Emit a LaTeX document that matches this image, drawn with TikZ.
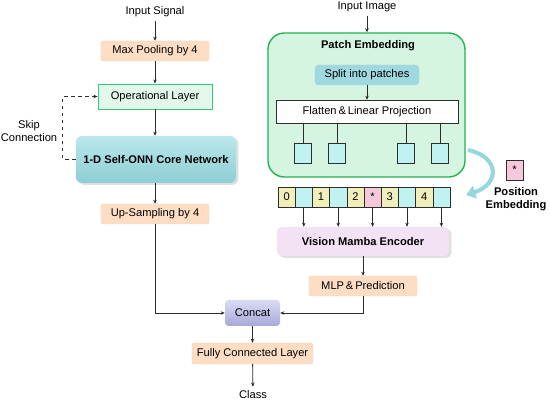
\documentclass[tikz,border=0pt]{standalone}
\usepackage{fontspec}
\setmainfont{Liberation Sans}
\usepackage{tikz}
\usetikzlibrary{shapes,arrows,positioning,fit,calc,shadows,arrows.meta}
\definecolor{peach}{RGB}{253,222,196}
\definecolor{peachline}{RGB}{248,208,178}
\definecolor{opgreen}{RGB}{226,248,234}
\definecolor{opline}{RGB}{52,200,120}
\definecolor{embfill}{RGB}{214,245,224}
\definecolor{embline}{RGB}{34,180,80}
\definecolor{splitfill}{RGB}{160,216,224}
\definecolor{coretop}{RGB}{186,232,236}
\definecolor{corebot}{RGB}{140,206,212}
\definecolor{patchcyan}{RGB}{192,242,242}
\definecolor{tokyellow}{RGB}{242,238,186}
\definecolor{tokpink}{RGB}{246,200,220}
\definecolor{mambafill}{RGB}{243,226,243}
\definecolor{cattop}{RGB}{218,218,246}
\definecolor{catbot}{RGB}{168,168,216}
\definecolor{curvecol}{RGB}{150,214,222}
\definecolor{inkline}{RGB}{45,45,45}

\begin{document}
\begin{tikzpicture}[
  x=0.03cm, y=-0.03cm,
  font=\fontsize{9.5}{11}\selectfont,
  stage/.style={rectangle, draw=peachline, fill=peach, rounded corners=2pt, minimum width=3.24cm, minimum height=0.6cm, inner sep=1pt},
  patchsq/.style={rectangle, draw=inkline, fill=patchcyan, minimum width=0.51cm, minimum height=0.6cm, inner sep=0pt},
  token/.style={rectangle, draw=inkline, minimum width=0.516cm, minimum height=0.6cm, inner sep=0pt},
  edge/.style={-{Stealth[length=3.5pt,width=3pt]}, line width=0.7pt, draw=inkline},
  link/.style={line width=0.7pt, draw=inkline},
  softshadow/.style={drop shadow={shadow xshift=2pt, shadow yshift=-1.5pt, opacity=0.25, fill=gray}}
]
\useasboundingbox (0,0) rectangle (550,404);

% signal branch
\node (insig) at (155,12) {Input Signal};
\node[stage] (maxpool) at (155,51) {Max Pooling by 4};
\node[rectangle, draw=opline, line width=0.8pt, fill=opgreen, minimum width=3.42cm, minimum height=0.75cm] (oplayer) at (155,96.5) {Operational Layer};
\node[rectangle, rounded corners=5pt, top color=coretop, bottom color=corebot, softshadow, minimum width=4.8cm, minimum height=1.41cm, font=\fontsize{9.5}{11}\selectfont\bfseries] (core) at (156,159.5) {1-D Self-ONN Core Network};
\node[stage] (upsamp) at (155,214) {Up-Sampling by 4};
\node[align=center] (skiplbl) at (29,131) {Skip\\Connection};
\draw[edge] (insig) -- (maxpool);
\draw[edge] (maxpool) -- (oplayer);
\draw[edge] (oplayer) -- (core.north -| oplayer);
\draw[edge] (core.south -| upsamp) -- (upsamp);
\draw[edge, dashed, line width=0.9pt] (core.west) -- ++(-13,0) |- (oplayer.west);

% image branch
\node (inimg) at (367,7) {Input Image};
\node[rectangle, draw=embline, line width=1.2pt, fill=embfill, rounded corners=14pt, minimum width=5.91cm, minimum height=4.32cm] (patchemb) at (366.5,105) {};
\node[font=\fontsize{9.5}{11}\selectfont\bfseries] (embtitle) at (368,46) {Patch Embedding};
\node[rectangle, fill=splitfill, draw=splitfill!85!black!60, rounded corners=3pt, minimum width=3.12cm, minimum height=0.6cm] (split) at (367,75) {Split into patches};
\node[rectangle, draw=inkline, fill=white, minimum width=5.46cm, minimum height=0.69cm] (flatten) at (367,111.5) {Flatten\,\&\,Linear Projection};
\foreach \i/\xx in {1/303, 2/337, 3/406, 4/440}
  \node[patchsq] (p\i) at (\xx,153) {};
\draw[edge] (inimg) -- (patchemb.north -| inimg);
\draw[edge] (split) -- (flatten);
\foreach \i in {1,...,4}
  \draw[link] (p\i.north |- flatten.south) -- (p\i.north);

% token sequence
\foreach \i/\lbl/\col in {0/0/tokyellow, 1//patchcyan, 2/1/tokyellow, 3//patchcyan, 4/2/tokyellow, 5/*/tokpink, 6/3/tokyellow, 7//patchcyan, 8/4/tokyellow, 9//patchcyan}
  \node[token, fill=\col] (t\i) at ({278+17.2*(\i+0.5)},197) {\lbl};
\node[token, fill=tokpink, minimum width=0.51cm] (posq) at (514.5,170) {*};
\node[align=center, font=\fontsize{9.5}{11}\selectfont\bfseries] (poslbl) at (516,199) {Position\\Embedding};
\coordinate (bendstart) at (468,150);
\coordinate (bendend) at (466,195);
\draw[-{Triangle[length=8pt,width=11pt]}, line width=3.5pt, draw=curvecol] (bendstart) .. controls (500,157) and (500,184) .. (bendend);

\node[rectangle, rounded corners=4pt, fill=mambafill, softshadow, minimum width=5.16cm, minimum height=0.87cm, font=\fontsize{9.5}{11}\selectfont\bfseries] (mamba) at (363,241.5) {Vision Mamba Encoder};
\foreach \i in {1,3,5,7,9}
  \draw[edge] (t\i.south) -- (t\i.south |- mamba.north);
\node[stage] (mlp) at (363,286) {MLP\,\&\,Prediction};
\draw[edge] (mamba.south -| mlp) -- (mlp);

% fusion
\node[rectangle, rounded corners=3pt, top color=cattop, bottom color=catbot, minimum width=1.65cm, minimum height=0.78cm] (concat) at (252.5,313) {Concat};
\node[stage, minimum width=3.63cm, minimum height=0.63cm] (fclayer) at (252.5,353.5) {Fully Connected Layer};
\node (cls) at (253,395) {Class};
\draw[edge] (upsamp.south) |- (concat.west);
\draw[edge] (mlp.south) |- (concat.east);
\draw[edge] (concat) -- (fclayer);
\draw[edge] (fclayer) -- (cls);
\end{tikzpicture}
\end{document}
